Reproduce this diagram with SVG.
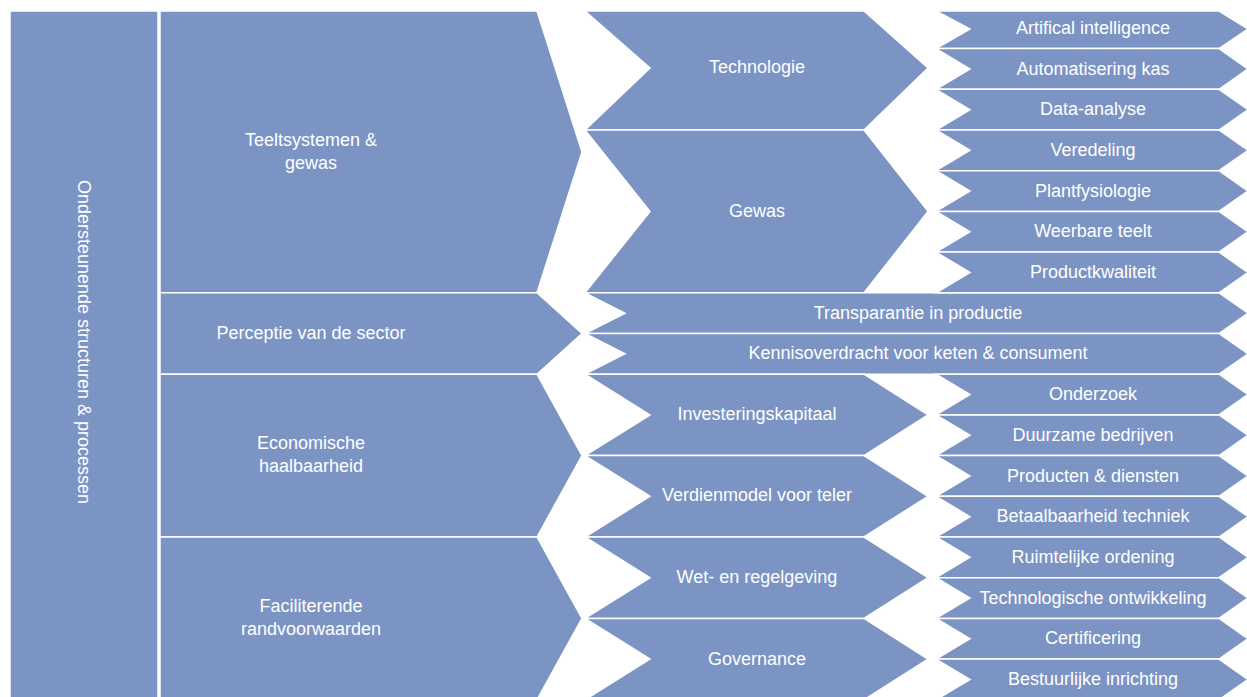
<svg xmlns="http://www.w3.org/2000/svg" width="1247" height="697" viewBox="0 0 1247 697">
<style>
.s{fill:#7B94C4;stroke:#FFFFFF;stroke-width:1.5;stroke-linejoin:miter}
.t{fill:#FFFFFF;font-family:"Liberation Sans",Arial,sans-serif;font-size:18px;text-anchor:middle}
</style>
<rect width="1247" height="697" fill="#FFFFFF"/>
<g id="root">
<rect class="s" x="10" y="11" width="148" height="690"/>
<text class="t" transform="translate(84,342) rotate(90)" y="6.5">Ondersteunende structuren &amp; processen</text>
</g>
<g id="teeltsystemen">
<polygon class="s" points="160,11 537,11 582,152 537,292.8 160,292.8"/>
<text class="t" x="311" y="146">Teeltsystemen &amp;</text>
<text class="t" x="311" y="169">gewas</text>
</g>
<g id="perceptie">
<polygon class="s" points="160,292.8 537,292.8 582,333.5 537,374.2 160,374.2"/>
<text class="t" x="311" y="339">Perceptie van de sector</text>
</g>
<g id="economische">
<polygon class="s" points="160,374.2 537,374.2 582,455.6 537,537 160,537"/>
<text class="t" x="311" y="449">Economische</text>
<text class="t" x="311" y="472">haalbaarheid</text>
</g>
<g id="faciliterende">
<polygon class="s" points="160,537 537,537 582,618.4 537,699.8 160,699.8"/>
<text class="t" x="311" y="612">Faciliterende</text>
<text class="t" x="311" y="635">randvoorwaarden</text>
</g>
<g id="technologie">
<polygon class="s" points="585,11 864,11 928,68 864,130 585,130 650,68"/>
<text class="t" x="757" y="73">Technologie</text>
</g>
<g id="gewas">
<polygon class="s" points="585,130 864,130 928,211.4 864,292.8 585,292.8 650,211.4"/>
<text class="t" x="757" y="217">Gewas</text>
</g>
<g id="transparantie">
<polygon class="s" points="585,292.8 1219,292.8 1248,313.15 1219,333.5 585,333.5 625,313.15"/>
<text class="t" x="918" y="319">Transparantie in productie</text>
</g>
<g id="kennisoverdracht">
<polygon class="s" points="585,333.5 1219,333.5 1248,353.85 1219,374.2 585,374.2 625,353.85"/>
<text class="t" x="918" y="359">Kennisoverdracht voor keten &amp; consument</text>
</g>
<g id="investeringskapitaal">
<polygon class="s" points="585,374.2 864,374.2 928,414.9 864,455.6 585,455.6 650,414.9"/>
<text class="t" x="757" y="420">Investeringskapitaal</text>
</g>
<g id="verdienmodel">
<polygon class="s" points="585,455.6 864,455.6 928,496.3 864,537 585,537 650,496.3"/>
<text class="t" x="757" y="501">Verdienmodel voor teler</text>
</g>
<g id="wetgeving">
<polygon class="s" points="585,537 864,537 928,577.7 864,618.4 585,618.4 650,577.7"/>
<text class="t" x="757" y="583">Wet- en regelgeving</text>
</g>
<g id="governance">
<polygon class="s" points="585,618.4 864,618.4 928,659.1 864,699.8 585,699.8 650,659.1"/>
<text class="t" x="757" y="664.5">Governance</text>
</g>
<g id="ai">
<polygon class="s" points="936,11 1219,11 1248,29 1219,48.6 936,48.6 970,29"/>
<text class="t" x="1093" y="33.5">Artifical intelligence</text>
</g>
<g id="automatisering">
<polygon class="s" points="936,48.6 1219,48.6 1248,68.95 1219,89.3 936,89.3 970,68.95"/>
<text class="t" x="1093" y="74.5">Automatisering kas</text>
</g>
<g id="data">
<polygon class="s" points="936,89.3 1219,89.3 1248,109.65 1219,130 936,130 970,109.65"/>
<text class="t" x="1093" y="115">Data-analyse</text>
</g>
<g id="veredeling">
<polygon class="s" points="936,130 1219,130 1248,150.35 1219,170.7 936,170.7 970,150.35"/>
<text class="t" x="1093" y="156">Veredeling</text>
</g>
<g id="plantfysiologie">
<polygon class="s" points="936,170.7 1219,170.7 1248,191.05 1219,211.4 936,211.4 970,191.05"/>
<text class="t" x="1093" y="196.5">Plantfysiologie</text>
</g>
<g id="weerbare">
<polygon class="s" points="936,211.4 1219,211.4 1248,231.75 1219,252.1 936,252.1 970,231.75"/>
<text class="t" x="1093" y="237">Weerbare teelt</text>
</g>
<g id="productkwaliteit">
<polygon class="s" points="936,252.1 1219,252.1 1248,272.45 1219,292.8 936,292.8 970,272.45"/>
<text class="t" x="1093" y="278">Productkwaliteit</text>
</g>
<g id="onderzoek">
<polygon class="s" points="936,374.2 1219,374.2 1248,394.55 1219,414.9 936,414.9 970,394.55"/>
<text class="t" x="1093" y="400">Onderzoek</text>
</g>
<g id="duurzame">
<polygon class="s" points="936,414.9 1219,414.9 1248,435.25 1219,455.6 936,455.6 970,435.25"/>
<text class="t" x="1093" y="441">Duurzame bedrijven</text>
</g>
<g id="producten">
<polygon class="s" points="936,455.6 1219,455.6 1248,475.95 1219,496.3 936,496.3 970,475.95"/>
<text class="t" x="1093" y="481.5">Producten &amp; diensten</text>
</g>
<g id="betaalbaarheid">
<polygon class="s" points="936,496.3 1219,496.3 1248,516.65 1219,537 936,537 970,516.65"/>
<text class="t" x="1093" y="522">Betaalbaarheid techniek</text>
</g>
<g id="ruimtelijke">
<polygon class="s" points="936,537 1219,537 1248,557.35 1219,577.7 936,577.7 970,557.35"/>
<text class="t" x="1093" y="563">Ruimtelijke ordening</text>
</g>
<g id="techontwikkeling">
<polygon class="s" points="936,577.7 1219,577.7 1248,598.05 1219,618.4 936,618.4 970,598.05"/>
<text class="t" x="1093" y="603.5">Technologische ontwikkeling</text>
</g>
<g id="certificering">
<polygon class="s" points="936,618.4 1219,618.4 1248,638.75 1219,659.1 936,659.1 970,638.75"/>
<text class="t" x="1093" y="644">Certificering</text>
</g>
<g id="bestuurlijke">
<polygon class="s" points="936,659.1 1219,659.1 1248,679.45 1219,699.8 936,699.8 970,679.45"/>
<text class="t" x="1093" y="685">Bestuurlijke inrichting</text>
</g>
<g id="connectors"/>
</svg>
